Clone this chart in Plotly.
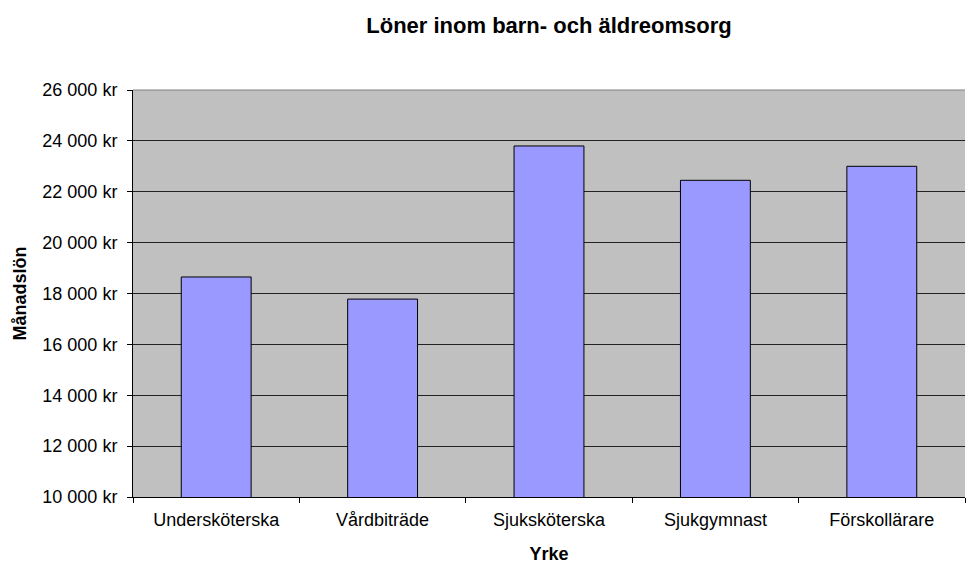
import plotly.graph_objects as go

categories = ["Undersköterska", "Vårdbiträde", "Sjuksköterska", "Sjukgymnast", "Förskollärare"]
salaries = [18650, 17780, 23800, 22450, 23000]
y_ticks = [10000, 12000, 14000, 16000, 18000, 20000, 22000, 24000, 26000]
y_tick_labels = ["10 000 kr", "12 000 kr", "14 000 kr", "16 000 kr", "18 000 kr",
                 "20 000 kr", "22 000 kr", "24 000 kr", "26 000 kr"]

font = "Liberation Sans, Arial, sans-serif"

# page body has an 8px default margin; compensate so plot sits where the reference has it
W, H = 971, 556

fig = go.Figure(go.Bar(
    x=categories, y=salaries,
    marker=dict(color="#9999ff", line=dict(color="black", width=1)),
))

fig.update_layout(
    width=W, height=H,
    margin=dict(l=125, r=14, t=82, b=67, autoexpand=False),
    paper_bgcolor="white", plot_bgcolor="#c0c0c0",
    bargap=0.58,
    showlegend=False,
    font=dict(family=font, size=18, color="black"),
    title=dict(text="<b>Löner inom barn- och äldreomsorg</b>", x=0.5, xanchor="center",
               xref="paper",
               y=1 - 17 / H, yanchor="middle", font=dict(size=22, family=font)),
    xaxis=dict(
        showgrid=False, ticks="outside", tickson="boundaries", ticklen=5,
        tickcolor="black", showline=True, linecolor="black", linewidth=1,
        title=dict(text="<b>Yrke</b>", font=dict(size=18), standoff=21),
        tickfont=dict(size=18), ticklabelstandoff=6, automargin=False,
    ),
    yaxis=dict(
        range=[10000, 26000], tickvals=y_ticks, ticktext=y_tick_labels,
        showgrid=True, gridcolor="#222222", gridwidth=1,
        ticks="outside", ticklen=5, tickcolor="black",
        showline=True, linecolor="black", linewidth=1,
        zeroline=False,
        title=dict(text="<b>Månadslön</b>", font=dict(size=18), standoff=11),
        tickfont=dict(size=18), ticklabelstandoff=6, automargin=False,
    ),
)

fig.add_shape(type="line", xref="paper", yref="paper", x0=0, x1=1, y0=1, y1=1,
              line=dict(color="#808080", width=1))

fig.write_html("out.html")
